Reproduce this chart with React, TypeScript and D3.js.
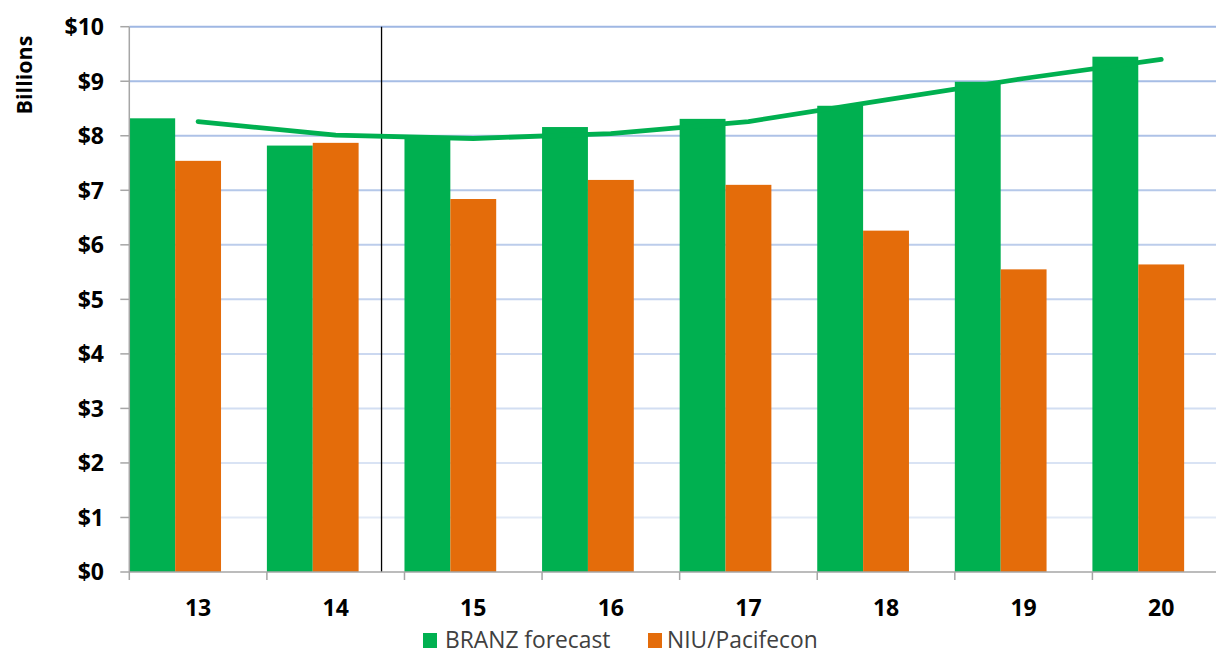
import React from "react";
import * as d3 from "d3";

const categories = ["13", "14", "15", "16", "17", "18", "19", "20"];
const branzForecast = [8.32, 7.82, 7.98, 8.16, 8.31, 8.55, 8.99, 9.45];
const niuPacifecon = [7.54, 7.87, 6.84, 7.19, 7.1, 6.26, 5.55, 5.64];
const branzTrend = [8.26, 8.01, 7.95, 8.04, 8.26, 8.66, 9.05, 9.4];
const yTicks = [0, 1, 2, 3, 4, 5, 6, 7, 8, 9, 10];
const seriesNames = ["BRANZ forecast", "NIU/Pacifecon"];

const GREEN = "#00b050";
const ORANGE = "#e46c0a";
const FONT = "'Open Sans', 'Noto Sans', sans-serif";

export default function App() {
  const W = 1216;
  const H = 653;
  const left = 129.3;
  const right = 1230;
  const top = 26.7;
  const bottom = 572;

  const x = d3.scaleBand<string>().domain(categories).range([left, right]).padding(0);
  const slot = x.bandwidth() / 3;
  const y = d3.scaleLinear().domain([0, 10]).range([bottom, top]);
  const gridColor = d3.interpolateRgb("#e8eef8", "#9fb7e3");

  const line = d3
    .line<number>()
    .x((_, i) => (x(categories[i]) as number) + x.bandwidth() / 2)
    .y((d) => y(d));

  const dividerX = (x("14") as number) + slot * 2.5;

  return (
    <svg width={W} height={H} style={{ position: "absolute", left: 0, top: 0 }}>
      <rect x={0} y={0} width={W} height={H} fill="#ffffff" />
      {/* gridlines */}
      {yTicks.filter((t) => t > 0).map((t) => (
        <line
          key={"g" + t}
          x1={left}
          x2={right}
          y1={y(t)}
          y2={y(t)}
          stroke={gridColor(t / 10)}
          strokeWidth={2}
        />
      ))}
      {/* bars */}
      {categories.map((c, i) => (
        <g key={"b" + c}>
          <rect
            x={x(c) as number}
            y={y(branzForecast[i])}
            width={slot}
            height={y(0) - y(branzForecast[i])}
            fill={GREEN}
          />
          <rect
            x={(x(c) as number) + slot}
            y={y(niuPacifecon[i])}
            width={slot}
            height={y(0) - y(niuPacifecon[i])}
            fill={ORANGE}
          />
        </g>
      ))}
      {/* divider */}
      <line x1={dividerX} x2={dividerX} y1={y(10)} y2={y(0)} stroke="#000" strokeWidth={1.3} />
      {/* trend line */}
      <path
        d={line(branzTrend) || ""}
        fill="none"
        stroke={GREEN}
        strokeWidth={4.8}
        strokeLinecap="round"
        strokeLinejoin="round"
      />
      {/* axes */}
      <line x1={left} x2={left} y1={top} y2={bottom} stroke="#a6a6a6" strokeWidth={1.5} />
      <line x1={left} x2={right} y1={bottom} y2={bottom} stroke="#a6a6a6" strokeWidth={1.5} />
      {yTicks.map((t) => (
        <g key={"yt" + t}>
          <line x1={left - 9} x2={left} y1={y(t)} y2={y(t)} stroke="#a6a6a6" strokeWidth={1.5} />
          <text
            x={104}
            y={y(t)}
            dy="0.36em"
            textAnchor="end"
            fontFamily={FONT}
            fontWeight="bold"
            fontSize={23}
            fill="#000"
          >
            {"$" + t}
          </text>
        </g>
      ))}
      {categories.map((c) => (
        <line
          key={"xt" + c}
          x1={x(c) as number}
          x2={x(c) as number}
          y1={bottom}
          y2={bottom + 8}
          stroke="#a6a6a6"
          strokeWidth={1.5}
        />
      ))}
      <line x1={right} x2={right} y1={bottom} y2={bottom + 8} stroke="#a6a6a6" strokeWidth={1.5} />
      {categories.map((c) => (
        <text
          key={"xl" + c}
          x={(x(c) as number) + x.bandwidth() / 2}
          y={616}
          textAnchor="middle"
          fontFamily={FONT}
          fontWeight="bold"
          fontSize={23}
          fill="#000"
        >
          {c}
        </text>
      ))}
      {/* y title */}
      <text
        transform="translate(32,75) rotate(-90)"
        textAnchor="middle"
        fontFamily={FONT}
        fontWeight="bold"
        fontSize={21.5}
        fill="#000"
      >
        Billions
      </text>
      {/* legend */}
      <g>
        <rect x={423} y={633} width={14} height={15} fill={GREEN} />
        <text x={445} y={647.5} fontFamily={FONT} fontSize={22.8} fill="#404040">
          {seriesNames[0]}
        </text>
        <rect x={648} y={633} width={14} height={15} fill={ORANGE} />
        <text x={667} y={647.5} fontFamily={FONT} fontSize={22.8} fill="#404040">
          {seriesNames[1]}
        </text>
      </g>
    </svg>
  );
}
